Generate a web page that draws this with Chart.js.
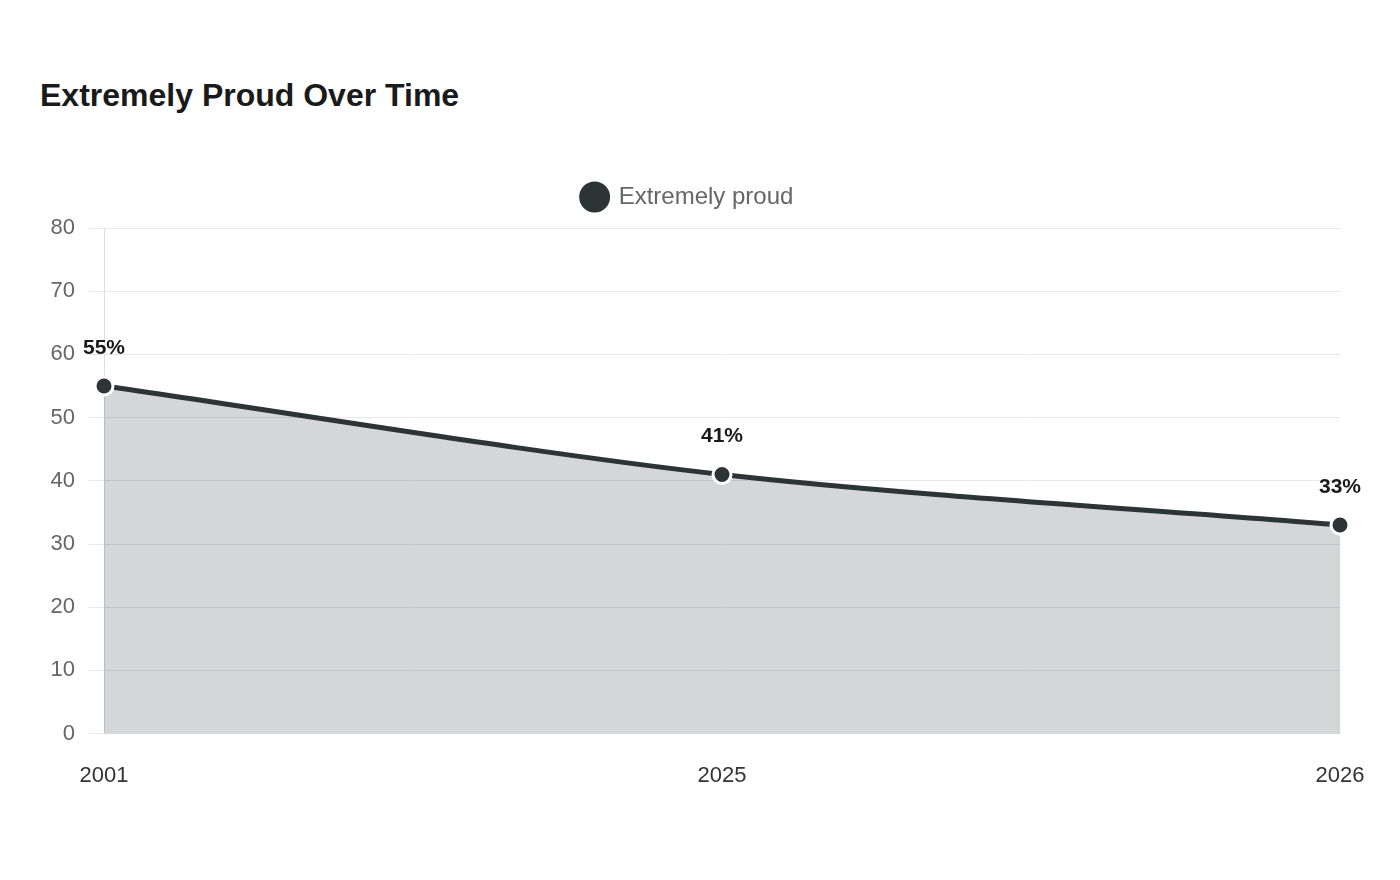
<!DOCTYPE html>
<html>
<head>
<meta charset="utf-8">
<script src="https://cdn.jsdelivr.net/npm/chart.js@4"></script>
<style>
  body { margin: 0; background: #fff; font-family: "Liberation Sans", Arial, sans-serif; }
  h2 { position: absolute; left: 40px; top: 77px; margin: 0; font-size: 32px; font-weight: bold; color: #1a1a1a; }
  #wrap { position: absolute; left: 0; top: 166px; width: 1400px; height: 644px; }
</style>
</head>
<body>
<h2>Extremely Proud Over Time</h2>
<div id="wrap"><canvas id="chart"></canvas></div>
<script>
const years = ['2001', '2025', '2026'];
const proudValues = [55, 41, 33];
const yTicks = [0, 10, 20, 30, 40, 50, 60, 70, 80];

const lineColor = '#2d3436';

// extra room under the legend
const legendGap = {
    id: 'legendGap',
    beforeInit(chart) {
        const fit = chart.legend.fit;
        chart.legend.fit = function () {
            fit.call(this);
            this.height += 9;
        };
    }
};

const valueLabels = {
    id: 'valueLabels',
    afterDatasetsDraw(chart) {
        const ctx = chart.ctx;
        const meta = chart.getDatasetMeta(0);
        ctx.save();
        ctx.font = 'bold 21px "Liberation Sans", Arial, sans-serif';
        ctx.fillStyle = '#1a1a1a';
        ctx.textAlign = 'center';
        ctx.textBaseline = 'middle';
        meta.data.forEach((pt, i) => {
            ctx.fillText(proudValues[i] + '%', pt.x, pt.y - 38);
        });
        ctx.restore();
    }
};

Chart.defaults.font.family = '"Liberation Sans", Arial, sans-serif';

new Chart(document.getElementById('chart'), {
    type: 'line',
    data: {
        labels: years,
        datasets: [{
            label: 'Extremely proud',
            data: proudValues,
            borderColor: lineColor,
            backgroundColor: 'rgba(45, 52, 54, 0.2)',
            borderWidth: 5,
            fill: true,
            tension: 0.3,
            pointRadius: 9,
            pointBorderWidth: 3,
            pointBackgroundColor: lineColor,
            pointBorderColor: '#fff'
        }]
    },
    options: {
        responsive: true,
        maintainAspectRatio: false,
        animation: false,
        layout: { padding: { top: 0, right: 60, bottom: 0, left: 36 } },
        plugins: {
            legend: {
                labels: {
                    usePointStyle: true,
                    pointStyle: 'circle',
                    boxWidth: 30,
                    boxHeight: 30,
                    padding: 19,
                    font: { size: 24 },
                    color: '#666'
                }
            },
            tooltip: { enabled: false }
        },
        scales: {
            x: {
                grid: { display: false },
                border: { color: '#ddd' },
                ticks: { font: { size: 22 }, color: '#333', padding: 21 }
            },
            y: {
                min: 0,
                max: 80,
                afterBuildTicks(axis) {
                    axis.ticks = yTicks.map(v => ({ value: v }));
                },
                afterFit(axis) {
                    axis.width = 68;
                },
                grid: { color: '#e8e8e8', tickLength: 15 },
                border: { color: '#e0e0e0' },
                ticks: { font: { size: 22 }, color: '#666', padding: 14 }
            }
        }
    },
    plugins: [legendGap, valueLabels]
});
</script>
</body>
</html>
